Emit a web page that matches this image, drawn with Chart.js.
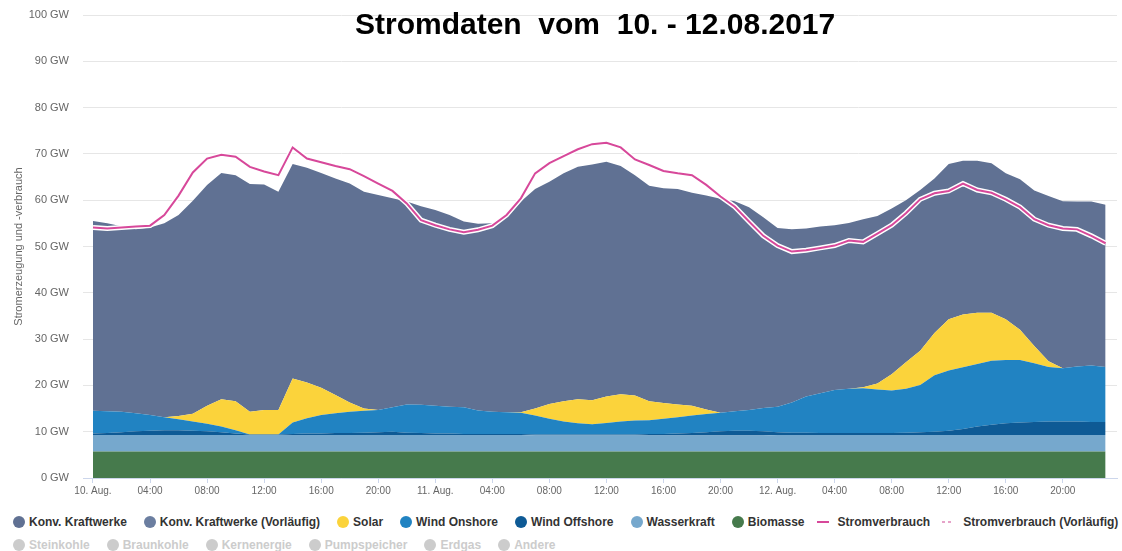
<!DOCTYPE html>
<html>
<head>
<meta charset="utf-8">
<script src="https://cdn.jsdelivr.net/npm/chart.js@4.4.1/dist/chart.umd.min.js"></script>
<style>
  html, body { margin: 0; padding: 0; background: #fff; overflow: hidden; }
  #wrap { position: relative; width: 1122px; height: 505px; }
  #title {
    position: absolute; top: 7px; left: 355px;
    font: bold 30px "Liberation Sans", Arial, sans-serif;
    white-space: pre; color: #000;
  }
  #legend {
    padding: 5.5px 0 0 13px;
    font: bold 12px "Liberation Sans", Arial, sans-serif;
    color: #333;
  }
  #legend .row { height: 23px; display: flex; align-items: center; white-space: nowrap; }
  #legend .item { display: inline-flex; align-items: center; margin-right: 17px; }
  #legend .dot { width: 12px; height: 12px; border-radius: 50%; margin-right: 4px; }
  #legend .line { width: 12px; height: 2px; margin: 0 9px 0 -5px; }
  #legend .off { color: #ccc; }
</style>
</head>
<body>
<div id="wrap">
  <canvas id="chart" width="1122" height="505"></canvas>
  <div id="title">Stromdaten  vom  10. - 12.08.2017</div>
</div>
<div id="legend"></div>
<script>
// ─── Data (hourly, 10.08. 00:00 – 12.08. 23:00, GW) ─────────────

const tickHours = [0, 4, 8, 12, 16, 20, 24, 28, 32, 36, 40, 44, 48, 52, 56, 60, 64, 68];
const tickLabels = ['10. Aug.', '04:00', '08:00', '12:00', '16:00', '20:00',
  '11. Aug.', '04:00', '08:00', '12:00', '16:00', '20:00',
  '12. Aug.', '04:00', '08:00', '12:00', '16:00', '20:00'];

const biomasse = [
  5.7, 5.7, 5.7, 5.7, 5.7, 5.7, 5.7, 5.7, 5.7, 5.7, 5.7, 5.7, 5.7, 5.7, 5.7, 5.7, 5.7, 5.7, 5.7, 5.7, 5.7, 5.7, 5.7, 5.7,
  5.7, 5.7, 5.7, 5.7, 5.7, 5.7, 5.7, 5.7, 5.7, 5.7, 5.7, 5.7, 5.7, 5.7, 5.7, 5.7, 5.7, 5.7, 5.7, 5.7, 5.7, 5.7, 5.7, 5.7,
  5.7, 5.7, 5.7, 5.7, 5.7, 5.7, 5.7, 5.7, 5.7, 5.7, 5.7, 5.7, 5.7, 5.7, 5.7, 5.7, 5.7, 5.7, 5.7, 5.7, 5.7, 5.7, 5.7, 5.7,
];
const wasserkraft = [
  3.6, 3.6, 3.6, 3.6, 3.6, 3.6, 3.6, 3.6, 3.6, 3.6, 3.6, 3.6, 3.6, 3.6, 3.6, 3.6, 3.6, 3.6, 3.6, 3.6, 3.6, 3.6, 3.6, 3.6,
  3.6, 3.6, 3.6, 3.6, 3.6, 3.6, 3.6, 3.5, 3.5, 3.5, 3.5, 3.5, 3.5, 3.5, 3.5, 3.5, 3.5, 3.5, 3.5, 3.5, 3.5, 3.5, 3.5, 3.5,
  3.6, 3.6, 3.6, 3.6, 3.6, 3.6, 3.6, 3.6, 3.6, 3.6, 3.6, 3.6, 3.6, 3.6, 3.6, 3.6, 3.6, 3.6, 3.6, 3.6, 3.6, 3.6, 3.6, 3.6,
];
const windOffshore = [
  0.3, 0.4, 0.6, 0.8, 0.9, 1.0, 1.0, 0.9, 0.8, 0.6, 0.3, 0.1, 0.1, 0.1, 0.2, 0.3, 0.3, 0.4, 0.4, 0.5, 0.6, 0.7, 0.5, 0.4,
  0.3, 0.3, 0.2, 0.2, 0.2, 0.2, 0.2, 0.2, 0.2, 0.2, 0.2, 0.2, 0.2, 0.2, 0.2, 0.3, 0.3, 0.4, 0.5, 0.7, 0.9, 1.0, 1.0, 0.9,
  0.6, 0.5, 0.5, 0.4, 0.4, 0.4, 0.4, 0.4, 0.4, 0.5, 0.6, 0.7, 0.9, 1.3, 1.8, 2.2, 2.5, 2.7, 2.8, 2.9, 2.9, 2.9, 2.8, 2.8,
];
const windOnshore = [
  4.9, 4.7, 4.4, 3.9, 3.4, 2.8, 2.4, 2.0, 1.6, 1.2, 0.7, 0.0, 0.0, 0.0, 2.5, 3.3, 4.0, 4.3, 4.6, 4.7, 4.8, 5.3, 6.1, 6.1,
  6.0, 5.8, 5.8, 5.1, 4.8, 4.7, 4.6, 4.1, 3.4, 2.8, 2.4, 2.2, 2.5, 2.8, 3.0, 3.0, 3.3, 3.5, 3.8, 3.9, 4.0, 4.2, 4.5, 5.0,
  5.5, 6.5, 7.8, 8.6, 9.3, 9.6, 9.7, 9.4, 9.2, 9.5, 10.2, 12.2, 13.0, 13.3, 13.5, 13.8, 13.7, 13.5, 12.7, 11.8, 11.5, 11.9, 12.2, 11.9,
];
const solar = [
  0.0, 0.0, 0.0, 0.0, 0.0, 0.0, 0.7, 1.7, 3.9, 5.9, 6.3, 4.9, 5.3, 5.3, 9.5, 7.7, 5.9, 3.9, 2.0, 0.5, 0.0, 0.0, 0.0, 0.0,
  0.0, 0.0, 0.0, 0.0, 0.0, 0.0, 0.1, 1.5, 3.2, 4.4, 5.2, 5.2, 5.7, 5.9, 5.4, 4.1, 3.4, 2.8, 2.1, 1.0, 0.0, 0.0, 0.0, 0.0,
  0.0, 0.0, 0.0, 0.0, 0.0, 0.0, 0.2, 1.3, 3.5, 5.7, 7.4, 9.1, 11.1, 11.4, 11.1, 10.4, 8.8, 6.5, 3.7, 1.2, 0.0, 0.0, 0.0, 0.0,
];
const konvKraftwerke = [
  41.0, 40.6, 40.1, 39.7, 40.5, 41.9, 43.4, 46.0, 47.7, 48.9, 48.8, 49.2, 48.7, 47.1, 46.3, 46.4, 46.4, 46.8, 47.3, 46.8, 46.4, 45.1, 43.8, 42.9,
  42.3, 41.4, 40.1, 40.3, 40.7, 42.1, 45.5, 47.4, 48.0, 49.2, 50.2, 50.9, 50.7, 49.3, 47.6, 46.5, 46.4, 46.5, 46.0, 46.2, 46.2, 45.4, 43.8, 41.2,
  38.6, 37.4, 36.3, 36.0, 35.6, 35.8, 36.3, 36.2, 35.8, 35.0, 34.7, 33.4, 33.5, 33.2, 32.8, 32.3, 31.5, 32.5, 33.6, 35.7, 36.1, 35.6, 35.4, 35.0,
];
const stromverbrauch = [
  54.1, 53.9, 54.1, 54.3, 54.5, 56.8, 61.0, 66.0, 69.0, 69.8, 69.4, 67.2, 66.2, 65.4, 71.4, 69.0, 68.2, 67.4, 66.7, 65.2, 63.6, 62.0, 59.3, 55.7,
  54.6, 53.7, 53.1, 53.6, 54.5, 56.8, 60.4, 65.8, 68.0, 69.5, 71.0, 72.1, 72.4, 71.4, 68.8, 67.6, 66.3, 65.8, 65.4, 63.3, 60.8, 58.6, 55.4, 52.3,
  50.2, 48.9, 49.2, 49.7, 50.2, 51.3, 51.0, 52.8, 54.6, 57.2, 60.2, 61.5, 62.0, 63.6, 62.2, 61.6, 60.2, 58.5, 55.9, 54.6, 53.9, 53.7, 52.3, 50.7,
];

const legendRows = [
  ['Konv. Kraftwerke', 'Konv. Kraftwerke (Vorläufig)', 'Solar', 'Wind Onshore', 'Wind Offshore',
    'Wasserkraft', 'Biomasse', 'Stromverbrauch', 'Stromverbrauch (Vorläufig)'],
  ['Steinkohle', 'Braunkohle', 'Kernenergie', 'Pumpspeicher', 'Erdgas', 'Andere'],
];
const inactiveSeries = legendRows[1];

// ─── Chart ─────────────────────────────────────────

const pts = (arr) => arr.map((v, i) => ({ x: i, y: v }));
const FONT = '"Liberation Sans", Arial, sans-serif';

function area(label, values, color, fill) {
  return {
    label, data: pts(values), backgroundColor: color, borderColor: color,
    borderWidth: 0, pointRadius: 0, fill, stack: 'gen', order: 0, tension: 0,
  };
}

const datasets = [
  area('Biomasse', biomasse, '#467a4c', 'origin'),
  area('Wasserkraft', wasserkraft, '#76a8cd', '-1'),
  area('Wind Offshore', windOffshore, '#0e5a95', '-1'),
  area('Wind Onshore', windOnshore, '#2183c2', '-1'),
  area('Solar', solar, '#fbd33b', '-1'),
  area('Konv. Kraftwerke', konvKraftwerke, '#607193', '-1'),
  {
    label: 'Stromverbrauch', data: pts(stromverbrauch), borderColor: '#d7489a',
    backgroundColor: '#d7489a', borderWidth: 2, pointRadius: 0, fill: false,
    stack: 'load', order: -2, legendSymbol: 'line',
  },
  {
    label: '_halo', data: pts(stromverbrauch), borderColor: '#ffffff',
    borderWidth: 5, pointRadius: 0, fill: false, stack: 'halo', order: -1,
  },
  {
    label: 'Konv. Kraftwerke (Vorläufig)', data: [], backgroundColor: '#6b7ea0',
    borderWidth: 0, pointRadius: 0, fill: false, stack: 'v1',
  },
  {
    label: 'Stromverbrauch (Vorläufig)', data: [], borderColor: '#e6a3c9',
    backgroundColor: '#e6a3c9', borderWidth: 2, borderDash: [3, 2], pointRadius: 0,
    fill: false, stack: 'v2', legendSymbol: 'line',
  },
  ...inactiveSeries.map((name, i) => ({
    label: name, data: [], backgroundColor: '#cccccc', borderWidth: 0,
    pointRadius: 0, fill: false, stack: 'off' + i, inactive: true,
  })),
];

// HTML legend, built from the chart's datasets
const htmlLegend = {
  id: 'htmlLegend',
  afterUpdate(chart) {
    const box = document.getElementById('legend');
    box.innerHTML = '';
    legendRows.forEach((names) => {
      const row = document.createElement('div');
      row.className = 'row';
      names.forEach((name) => {
        const ds = chart.data.datasets.find((d) => d.label === name);
        const item = document.createElement('span');
        item.className = 'item' + (ds.inactive ? ' off' : '');
        const sym = document.createElement('span');
        if (ds.legendSymbol === 'line') {
          sym.className = 'line';
          sym.style.background = ds.borderDash
            ? `repeating-linear-gradient(to right, ${ds.borderColor} 0 3px, transparent 3px 6px)`
            : ds.borderColor;
        } else {
          sym.className = 'dot';
          sym.style.background = ds.backgroundColor;
        }
        item.appendChild(sym);
        item.appendChild(document.createTextNode(name));
        row.appendChild(item);
      });
      box.appendChild(row);
    });
  },
};

new Chart(document.getElementById('chart'), {
  type: 'line',
  data: { datasets },
  plugins: [htmlLegend],
  options: {
    responsive: false,
    animation: false,
    events: [],
    layout: { padding: { top: 15, right: 5, left: 0, bottom: 0 } },
    plugins: {
      tooltip: { enabled: false },
      legend: { display: false },
    },
    scales: {
      x: {
        type: 'linear',
        min: -0.7,
        max: 71.8,
        afterBuildTicks: (scale) => { scale.ticks = tickHours.map((v) => ({ value: v })); },
        afterFit: (scale) => { scale.height = 27; },
        ticks: {
          autoSkip: false,
          maxRotation: 0,
          padding: 2,
          color: '#666666',
          font: { family: FONT, size: 10 },
          callback: (v) => tickLabels[tickHours.indexOf(v)],
        },
        grid: { drawOnChartArea: false, drawTicks: true, tickLength: 5, color: '#ccd6eb' },
        border: { display: true, color: '#ccd6eb' },
      },
      y: {
        stacked: true,
        min: 0,
        max: 100,
        afterFit: (scale) => { scale.width = 83; },
        ticks: {
          stepSize: 10,
          padding: 8,
          color: '#666666',
          font: { family: FONT, size: 11 },
          callback: (v) => v + ' GW',
        },
        grid: { color: '#e6e6e6', drawTicks: true, tickLength: 6, tickColor: 'rgba(0,0,0,0)' },
        border: { display: false },
        title: {
          display: true,
          text: 'Stromerzeugung und -verbrauch',
          color: '#666666',
          padding: { top: 12, bottom: 0 },
          font: { family: FONT, size: 11 },
        },
      },
    },
  },
});
</script>
</body>
</html>
